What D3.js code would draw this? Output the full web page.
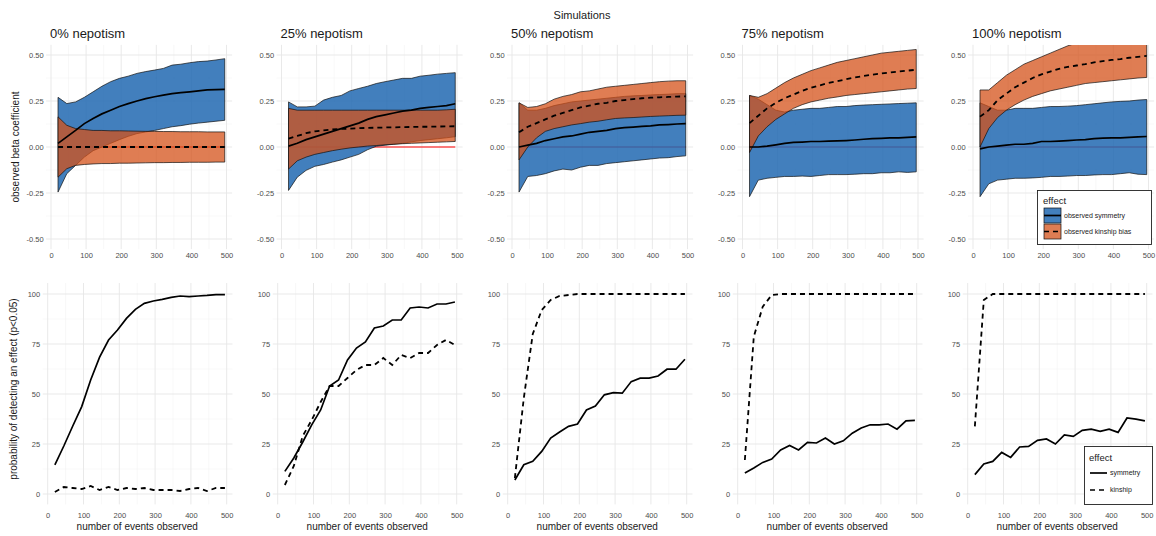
<!DOCTYPE html>
<html>
<head>
<meta charset="utf-8">
<script src="https://d3js.org/d3.v7.min.js"></script>
<title>Simulations</title>
<style>
  body { margin: 0; background: #fff; }
  svg { font-family: "Liberation Sans", Arial, sans-serif; }
</style>
</head>
<body>
<svg id="viz" width="1156" height="536"></svg>
<script>
// x positions of the simulated sample sizes
const events = [20, 45, 70, 95, 120, 145, 170, 195, 220, 245, 270, 295, 320, 345, 370, 395, 420, 445, 470, 495];
const panelTitles = ["0% nepotism", "25% nepotism", "50% nepotism", "75% nepotism", "100% nepotism"];

// top row: observed beta coefficients (one inner array per nepotism level)
const symHi = [
  [0.27, 0.236, 0.245, 0.27, 0.30, 0.33, 0.355, 0.373, 0.385, 0.40, 0.41, 0.418, 0.427, 0.445, 0.45, 0.458, 0.464, 0.467, 0.473, 0.48],
  [0.245, 0.218, 0.218, 0.222, 0.255, 0.27, 0.28, 0.305, 0.318, 0.33, 0.345, 0.355, 0.364, 0.373, 0.373, 0.385, 0.39, 0.396, 0.40, 0.404],
  [0.24, 0.20, 0.20, 0.21, 0.225, 0.235, 0.245, 0.25, 0.255, 0.26, 0.265, 0.27, 0.275, 0.278, 0.28, 0.283, 0.285, 0.287, 0.29, 0.29],
  [0.28, 0.26, 0.23, 0.20, 0.19, 0.20, 0.205, 0.21, 0.21, 0.215, 0.22, 0.22, 0.225, 0.228, 0.23, 0.232, 0.234, 0.236, 0.238, 0.24],
  [0.24, 0.22, 0.20, 0.20, 0.21, 0.21, 0.21, 0.215, 0.22, 0.22, 0.222, 0.225, 0.23, 0.235, 0.24, 0.245, 0.248, 0.25, 0.255, 0.258]
];
const symLo = [
  [-0.245, -0.145, -0.10, -0.055, -0.02, 0.0, 0.02, 0.04, 0.058, 0.073, 0.082, 0.09, 0.10, 0.11, 0.116, 0.124, 0.13, 0.135, 0.14, 0.145],
  [-0.236, -0.164, -0.127, -0.105, -0.095, -0.082, -0.07, -0.055, -0.04, -0.015, 0.004, 0.01, 0.015, 0.02, 0.028, 0.035, 0.04, 0.045, 0.05, 0.056],
  [-0.245, -0.16, -0.155, -0.145, -0.13, -0.12, -0.125, -0.11, -0.10, -0.10, -0.09, -0.085, -0.08, -0.075, -0.07, -0.065, -0.06, -0.058, -0.052, -0.048],
  [-0.27, -0.18, -0.17, -0.165, -0.16, -0.16, -0.158, -0.16, -0.155, -0.15, -0.15, -0.15, -0.148, -0.145, -0.145, -0.14, -0.14, -0.135, -0.138, -0.135],
  [-0.27, -0.20, -0.18, -0.175, -0.17, -0.17, -0.168, -0.165, -0.16, -0.16, -0.158, -0.155, -0.155, -0.152, -0.15, -0.15, -0.145, -0.14, -0.148, -0.15]
];
const symMean = [
  [0.02, 0.055, 0.09, 0.127, 0.155, 0.18, 0.20, 0.22, 0.236, 0.25, 0.263, 0.273, 0.282, 0.29, 0.295, 0.30, 0.305, 0.31, 0.312, 0.313],
  [0.005, 0.02, 0.04, 0.055, 0.07, 0.085, 0.10, 0.115, 0.13, 0.15, 0.165, 0.175, 0.185, 0.195, 0.20, 0.21, 0.215, 0.22, 0.225, 0.235],
  [0.0, 0.01, 0.02, 0.035, 0.045, 0.055, 0.06, 0.07, 0.08, 0.085, 0.09, 0.10, 0.105, 0.108, 0.112, 0.115, 0.12, 0.122, 0.125, 0.127],
  [0.0, 0.0, 0.005, 0.012, 0.02, 0.025, 0.027, 0.03, 0.03, 0.032, 0.033, 0.035, 0.038, 0.042, 0.045, 0.047, 0.05, 0.05, 0.052, 0.055],
  [-0.01, 0.0, 0.005, 0.01, 0.015, 0.015, 0.02, 0.03, 0.03, 0.032, 0.035, 0.038, 0.04, 0.045, 0.048, 0.05, 0.05, 0.052, 0.055, 0.057]
];
const kinHi = [
  [0.164, 0.118, 0.10, 0.095, 0.09, 0.09, 0.088, 0.088, 0.087, 0.086, 0.085, 0.085, 0.084, 0.084, 0.083, 0.083, 0.083, 0.082, 0.082, 0.082],
  [0.21, 0.20, 0.20, 0.20, 0.20, 0.20, 0.20, 0.20, 0.20, 0.20, 0.20, 0.20, 0.20, 0.20, 0.20, 0.20, 0.20, 0.20, 0.202, 0.205],
  [0.24, 0.215, 0.22, 0.235, 0.26, 0.275, 0.285, 0.30, 0.305, 0.315, 0.325, 0.33, 0.335, 0.34, 0.345, 0.35, 0.355, 0.358, 0.36, 0.36],
  [0.28, 0.27, 0.29, 0.32, 0.35, 0.375, 0.395, 0.415, 0.43, 0.445, 0.46, 0.47, 0.48, 0.49, 0.50, 0.51, 0.515, 0.52, 0.525, 0.53],
  [0.31, 0.31, 0.35, 0.39, 0.42, 0.45, 0.47, 0.49, 0.51, 0.53, 0.55, 0.565, 0.58, 0.59, 0.60, 0.61, 0.615, 0.62, 0.625, 0.63]
];
const kinLo = [
  [-0.164, -0.118, -0.10, -0.095, -0.092, -0.09, -0.09, -0.088, -0.088, -0.087, -0.086, -0.085, -0.085, -0.084, -0.084, -0.083, -0.083, -0.083, -0.082, -0.082],
  [-0.12, -0.075, -0.055, -0.04, -0.03, -0.02, -0.012, -0.005, 0.0, 0.005, 0.008, 0.012, 0.015, 0.018, 0.02, 0.022, 0.024, 0.026, 0.028, 0.03],
  [-0.07, 0.0, 0.05, 0.085, 0.10, 0.11, 0.12, 0.127, 0.135, 0.14, 0.148, 0.155, 0.158, 0.16, 0.163, 0.166, 0.168, 0.17, 0.172, 0.173],
  [-0.03, 0.06, 0.11, 0.15, 0.18, 0.21, 0.23, 0.245, 0.255, 0.265, 0.272, 0.28, 0.285, 0.29, 0.295, 0.30, 0.305, 0.31, 0.315, 0.318],
  [0.0, 0.10, 0.16, 0.20, 0.23, 0.255, 0.275, 0.29, 0.305, 0.315, 0.325, 0.335, 0.345, 0.35, 0.355, 0.36, 0.365, 0.37, 0.375, 0.378]
];
const kinMean = [
  [0, 0, 0, 0, 0, 0, 0, 0, 0, 0, 0, 0, 0, 0, 0, 0, 0, 0, 0, 0],
  [0.045, 0.06, 0.075, 0.085, 0.09, 0.095, 0.098, 0.10, 0.102, 0.104, 0.105, 0.106, 0.107, 0.108, 0.109, 0.11, 0.11, 0.111, 0.112, 0.113],
  [0.08, 0.11, 0.13, 0.15, 0.17, 0.185, 0.20, 0.215, 0.225, 0.235, 0.24, 0.25, 0.255, 0.26, 0.265, 0.268, 0.27, 0.272, 0.274, 0.275],
  [0.13, 0.17, 0.21, 0.24, 0.265, 0.285, 0.305, 0.322, 0.335, 0.348, 0.358, 0.368, 0.378, 0.386, 0.393, 0.40, 0.405, 0.41, 0.415, 0.42],
  [0.165, 0.20, 0.255, 0.29, 0.325, 0.35, 0.375, 0.395, 0.41, 0.425, 0.435, 0.443, 0.45, 0.46, 0.467, 0.473, 0.478, 0.485, 0.49, 0.495]
];

// bottom row: probability of detecting an effect (%)
const powerSym = [
  [14.6, 24, 34, 43.7, 57, 68.4, 77, 82, 87.8, 92.3, 95.3, 96.5, 97.3, 98.3, 99, 98.7, 99, 99.3, 99.7, 99.7],
  [11.3, 18, 26, 34.6, 42, 54, 57, 67, 73, 76, 83, 84, 87, 87, 93, 93.5, 93, 95, 95, 96],
  [7, 14.6, 16.3, 21.3, 28, 31, 33.8, 35, 42, 44, 49.6, 50.7, 50.4, 56.2, 57.9, 57.9, 59, 62.4, 62.4, 67.4],
  [10.5, 13, 15.8, 17.5, 22, 24.3, 22, 25.8, 25.5, 28, 25, 26.6, 30.4, 33, 34.6, 34.6, 35, 32.4, 36.6, 36.8],
  [9.7, 15, 16.3, 20.8, 18.3, 23.5, 23.8, 26.8, 27.5, 25, 29.6, 28.8, 31.8, 32.4, 31.3, 32.4, 30.8, 38, 37.4, 36.6]
];
const powerKin = [
  [1, 3.5, 3, 2.5, 4, 2, 3.5, 2, 3, 2.5, 3, 2, 2, 2, 1.5, 2.5, 3, 1.5, 3, 3],
  [4.5, 14, 29, 37, 46, 54, 54, 58, 62, 64.5, 64.5, 68, 64.5, 69.5, 68, 70.5, 70.5, 74.5, 77, 74.5],
  [8, 48, 80, 92, 97, 99, 99.5, 100, 100, 100, 100, 100, 100, 100, 100, 100, 100, 100, 100, 100],
  [17, 78.7, 93.7, 99.5, 100, 100, 100, 100, 100, 100, 100, 100, 100, 100, 100, 100, 100, 100, 100, 100],
  [33.8, 97, 100, 100, 100, 100, 100, 100, 100, 100, 100, 100, 100, 100, 100, 100, 100, 100, 100, 100]
];

const xTicks = [0, 100, 200, 300, 400, 500];
const topYTicks = [-0.5, -0.25, 0, 0.25, 0.5];
const topYLabels = ["-0.50", "-0.25", "0.00", "0.25", "0.50"];
const botYTicks = [0, 25, 50, 75, 100];

const blue = "#2169b2", orange = "#d4521a";
const blueAlpha = 0.85, orangeAlpha = 0.75;
const gridMajor = "#e6e6e6", gridMinor = "#f1f1f1";
const tickColor = "#4d4d4d";

const svg = d3.select("#viz");
const defs = svg.append("defs");

function drawGrid(g, x, y, xMinor, yMinor, yMajor, xr, yr) {
  xMinor.forEach(v => g.append("line").attr("x1", x(v)).attr("x2", x(v)).attr("y1", yr[0]).attr("y2", yr[1])
    .attr("stroke", gridMinor).attr("stroke-width", 0.5));
  yMinor.forEach(v => g.append("line").attr("y1", y(v)).attr("y2", y(v)).attr("x1", xr[0]).attr("x2", xr[1])
    .attr("stroke", gridMinor).attr("stroke-width", 0.5));
  xTicks.forEach(v => g.append("line").attr("x1", x(v)).attr("x2", x(v)).attr("y1", yr[0]).attr("y2", yr[1])
    .attr("stroke", gridMajor).attr("stroke-width", 0.9));
  yMajor.forEach(v => g.append("line").attr("y1", y(v)).attr("y2", y(v)).attr("x1", xr[0]).attr("x2", xr[1])
    .attr("stroke", gridMajor).attr("stroke-width", 0.9));
}

function drawAxes(x, y, yTicks, yFmt, xr, xBase) {
  const ya = svg.append("g").attr("transform", "translate(" + xr[0] + ",0)")
    .call(d3.axisLeft(y).tickValues(yTicks).tickFormat(yFmt).tickSize(0).tickPadding(2.5));
  const xa = svg.append("g").attr("transform", "translate(0," + xBase + ")")
    .call(d3.axisBottom(x).tickValues(xTicks).tickFormat(d3.format("d")).tickSize(0).tickPadding(0));
  [ya, xa].forEach(a => {
    a.select(".domain").remove();
    a.selectAll("text").attr("fill", tickColor).style("font-size", "7.5px")
      .style("font-family", "'Liberation Sans', Arial, sans-serif");
  });
}

// ---------- top row ----------
for (let k = 0; k < 5; k++) {
  const x0 = 51 + 230.5 * k;
  const x = d3.scaleLinear().domain([0, 500]).range([x0, x0 + 175.5]);
  const y = d3.scaleLinear().domain([-0.5, 0.5]).range([239, 55]);
  const xr = [x(-14), x(516)], yr = [y(0.555), y(-0.555)];

  defs.append("clipPath").attr("id", "clipTop" + k).append("rect")
    .attr("x", xr[0]).attr("y", yr[0]).attr("width", xr[1] - xr[0]).attr("height", yr[1] - yr[0]);

  const g = svg.append("g");
  drawGrid(g, x, y, [50, 150, 250, 350, 450], [-0.375, -0.125, 0.125, 0.375], topYTicks, xr, yr);
  drawAxes(x, y, topYTicks, (d, i) => topYLabels[i], xr, 253);

  svg.append("text").attr("x", x0 - 1).attr("y", 37.5).attr("font-size", 13).attr("fill", "#1a1a1a")
    .text(panelTitles[k]);

  const pg = svg.append("g").attr("clip-path", "url(#clipTop" + k + ")");
  const rows = events.map((e, i) => ({
    x: e, sHi: symHi[k][i], sLo: symLo[k][i], sM: symMean[k][i],
    kHi: kinHi[k][i], kLo: kinLo[k][i], kM: kinMean[k][i]
  }));

  // true value (zero) reference line
  pg.append("path").datum(rows)
    .attr("d", d3.line().x(d => x(d.x)).y(() => y(0)))
    .attr("fill", "none").attr("stroke", "#ff0000").attr("stroke-width", 1.2);

  pg.append("path").datum(rows)
    .attr("d", d3.area().x(d => x(d.x)).y0(d => y(d.sLo)).y1(d => y(d.sHi)))
    .attr("fill", blue).attr("fill-opacity", blueAlpha)
    .attr("stroke", "#111").attr("stroke-width", 0.7).attr("stroke-linejoin", "round");

  pg.append("path").datum(rows)
    .attr("d", d3.area().x(d => x(d.x)).y0(d => y(d.kLo)).y1(d => y(d.kHi)))
    .attr("fill", orange).attr("fill-opacity", orangeAlpha)
    .attr("stroke", "#111").attr("stroke-width", 0.7).attr("stroke-linejoin", "round");

  pg.append("path").datum(rows)
    .attr("d", d3.line().x(d => x(d.x)).y(d => y(d.sM)))
    .attr("fill", "none").attr("stroke", "#000").attr("stroke-width", 1.7);

  pg.append("path").datum(rows)
    .attr("d", d3.line().x(d => x(d.x)).y(d => y(d.kM)))
    .attr("fill", "none").attr("stroke", "#000").attr("stroke-width", 1.8)
    .attr("stroke-dasharray", "5,4");
}

// ---------- bottom row ----------
for (let k = 0; k < 5; k++) {
  const x0 = 47.7 + 230 * k;
  const x = d3.scaleLinear().domain([0, 500]).range([x0, x0 + 179]);
  const y = d3.scaleLinear().domain([0, 100]).range([494, 294]);
  const xr = [x(-14), x(516)], yr = [y(105.5), y(-5.2)];

  const g = svg.append("g");
  drawGrid(g, x, y, [50, 150, 250, 350, 450], [12.5, 37.5, 62.5, 87.5], botYTicks, xr, yr);
  drawAxes(x, y, botYTicks, d3.format("d"), xr, 512.5);

  svg.append("text").attr("x", (x(0) + x(500)) / 2).attr("y", 530).attr("text-anchor", "middle")
    .attr("font-size", 10).attr("fill", "#1a1a1a").text("number of events observed");

  const rows = events.map((e, i) => ({ x: e, s: powerSym[k][i], kk: powerKin[k][i] }));
  svg.append("path").datum(rows)
    .attr("d", d3.line().x(d => x(d.x)).y(d => y(d.s)))
    .attr("fill", "none").attr("stroke", "#000").attr("stroke-width", 1.7);
  svg.append("path").datum(rows)
    .attr("d", d3.line().x(d => x(d.x)).y(d => y(d.kk)))
    .attr("fill", "none").attr("stroke", "#000").attr("stroke-width", 1.8)
    .attr("stroke-dasharray", "5,4");
}

// ---------- titles ----------
svg.append("text").attr("x", 582).attr("y", 18.5).attr("text-anchor", "middle")
  .attr("font-size", 11).attr("fill", "#1a1a1a").text("Simulations");

svg.append("text").attr("transform", "translate(19,147) rotate(-90)").attr("text-anchor", "middle")
  .attr("font-size", 10).attr("fill", "#1a1a1a").text("observed beta coefficient");
svg.append("text").attr("transform", "translate(17,389) rotate(-90)").attr("text-anchor", "middle")
  .attr("font-size", 10).attr("fill", "#1a1a1a").text("probability of detecting an effect (p<0.05)");

// ---------- legends ----------
const legTop = svg.append("g");
legTop.append("rect").attr("x", 1037.5).attr("y", 190.5).attr("width", 114).attr("height", 54)
  .attr("fill", "#fff").attr("stroke", "#222").attr("stroke-width", 0.9);
legTop.append("text").attr("x", 1043).attr("y", 204).attr("font-size", 9.5).attr("fill", "#1a1a1a").text("effect");
const topKeys = [
  { label: "observed symmetry", fill: blue, alpha: blueAlpha, dash: null },
  { label: "observed kinship bias", fill: orange, alpha: orangeAlpha, dash: "5,4" }
];
topKeys.forEach((d, i) => {
  const ky = 208 + i * 16;
  legTop.append("rect").attr("x", 1044).attr("y", ky).attr("width", 17).attr("height", 15)
    .attr("fill", d.fill).attr("fill-opacity", d.alpha).attr("stroke", "#111").attr("stroke-width", 0.7);
  legTop.append("line").attr("x1", 1044).attr("x2", 1061).attr("y1", ky + 7.5).attr("y2", ky + 7.5)
    .attr("stroke", "#000").attr("stroke-width", 1.7).attr("stroke-dasharray", d.dash);
  legTop.append("text").attr("x", 1064).attr("y", ky + 7.5).attr("dy", "0.35em")
    .attr("font-size", 7).attr("fill", "#1a1a1a").text(d.label);
});

const legBot = svg.append("g");
legBot.append("rect").attr("x", 1084.5).attr("y", 446.5).attr("width", 68).attr("height", 58)
  .attr("fill", "#fff").attr("stroke", "#222").attr("stroke-width", 0.9);
legBot.append("text").attr("x", 1089).attr("y", 461).attr("font-size", 9.5).attr("fill", "#1a1a1a").text("effect");
const botKeys = [{ label: "symmetry", dash: null }, { label: "kinship", dash: "5,4" }];
botKeys.forEach((d, i) => {
  const ky = 473 + i * 17;
  legBot.append("line").attr("x1", 1090).attr("x2", 1107).attr("y1", ky).attr("y2", ky)
    .attr("stroke", "#000").attr("stroke-width", 1.7).attr("stroke-dasharray", d.dash);
  legBot.append("text").attr("x", 1110).attr("y", ky).attr("dy", "0.35em")
    .attr("font-size", 7).attr("fill", "#1a1a1a").text(d.label);
});
</script>
</body>
</html>
